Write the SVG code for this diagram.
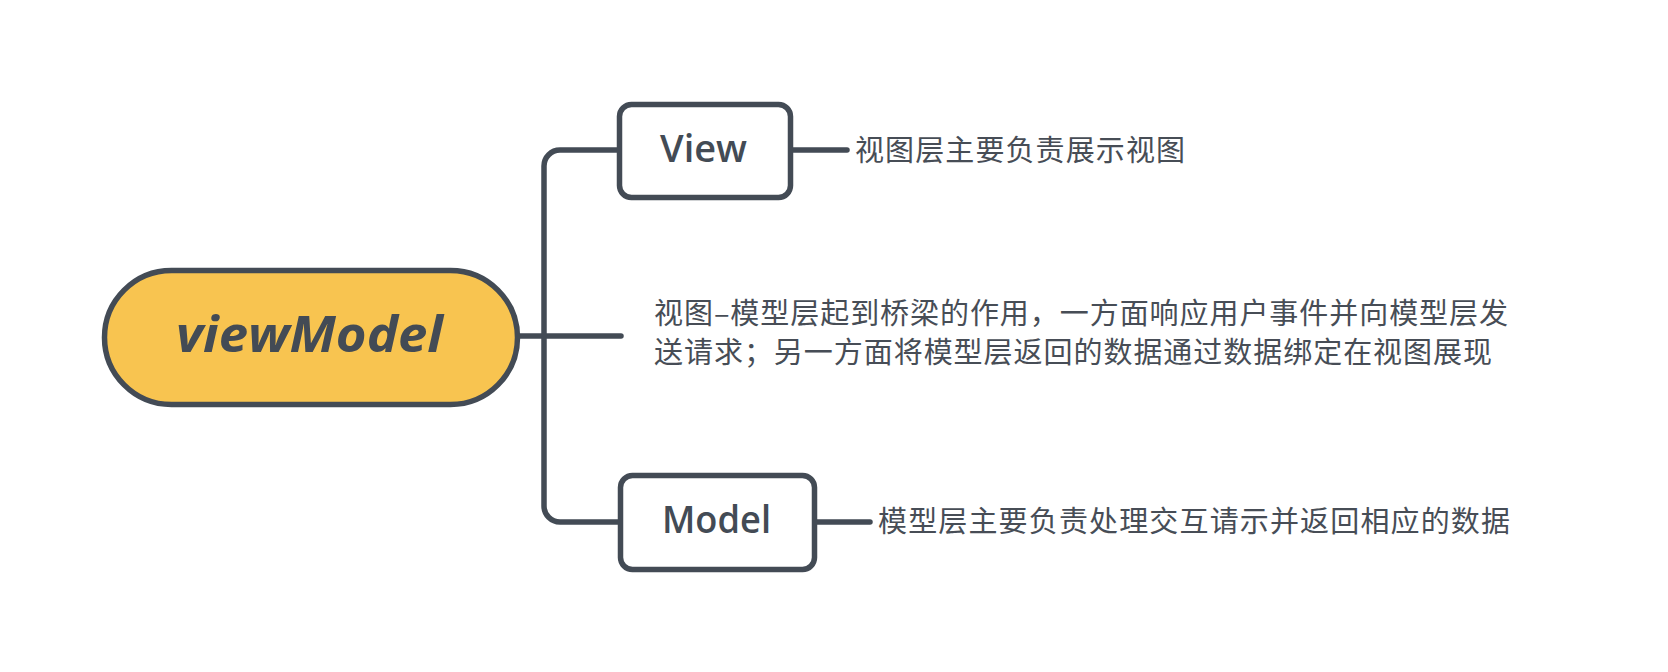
<svg xmlns="http://www.w3.org/2000/svg" width="1668" height="672" viewBox="0 0 1668 672">
<style>
.ln{fill:none;stroke:#434B55;stroke-width:5.5;stroke-linecap:round;stroke-linejoin:round}
.box{fill:#FFFFFF;stroke:#434B55;stroke-width:5.5}
.root{fill:#F8C450;stroke:#434B55;stroke-width:5.5}
.lat{font-family:"Open Sans","Noto Sans","Liberation Sans",sans-serif;fill:#434B55}
.cjk{font-family:"Noto Sans CJK SC","Noto Sans",sans-serif;font-size:29px;fill:#474D56}
</style>
<rect width="1668" height="672" fill="#FFFFFF"/>
<g id="connectors">
<path class="ln" d="M520,336 H621"/>
<path class="ln" d="M619.5,150 H560 A16,16 0 0 0 544,166 V506 A16,16 0 0 0 560,522 H620.5"/>
<path class="ln" d="M790.5,150 H847"/>
<path class="ln" d="M814.5,522 H870"/>
</g>
<g id="root">
<rect class="root" x="104.5" y="270.5" width="413" height="134" rx="67" ry="67"/>
<text class="lat" x="176" y="352" font-size="50" font-weight="700" font-style="italic" textLength="267" lengthAdjust="spacingAndGlyphs">viewModel</text>
</g>
<g id="view">
<rect class="box" x="619.5" y="104.5" width="171" height="93" rx="12" ry="12"/>
<text class="lat" x="660" y="162" font-size="38" font-weight="600" textLength="87" lengthAdjust="spacingAndGlyphs">View</text>
</g>
<g id="view-label">
<text class="cjk" x="855" y="161" textLength="330" lengthAdjust="spacing">视图层主要负责展示视图</text>
</g>
<g id="viewmodel-label">
<text class="cjk" x="654" y="324" textLength="854" lengthAdjust="spacing">视图–模型层起到桥梁的作用，一方面响应用户事件并向模型层发</text>
<text class="cjk" x="654" y="363" textLength="838" lengthAdjust="spacing">送请求；另一方面将模型层返回的数据通过数据绑定在视图展现</text>
</g>
<g id="model">
<rect class="box" x="620.5" y="475.5" width="194" height="94" rx="12" ry="12"/>
<text class="lat" x="662" y="533" font-size="37" font-weight="600" textLength="109" lengthAdjust="spacingAndGlyphs">Model</text>
</g>
<g id="model-label">
<text class="cjk" x="878" y="532" textLength="632" lengthAdjust="spacing">模型层主要负责处理交互请示并返回相应的数据</text>
</g>
</svg>
